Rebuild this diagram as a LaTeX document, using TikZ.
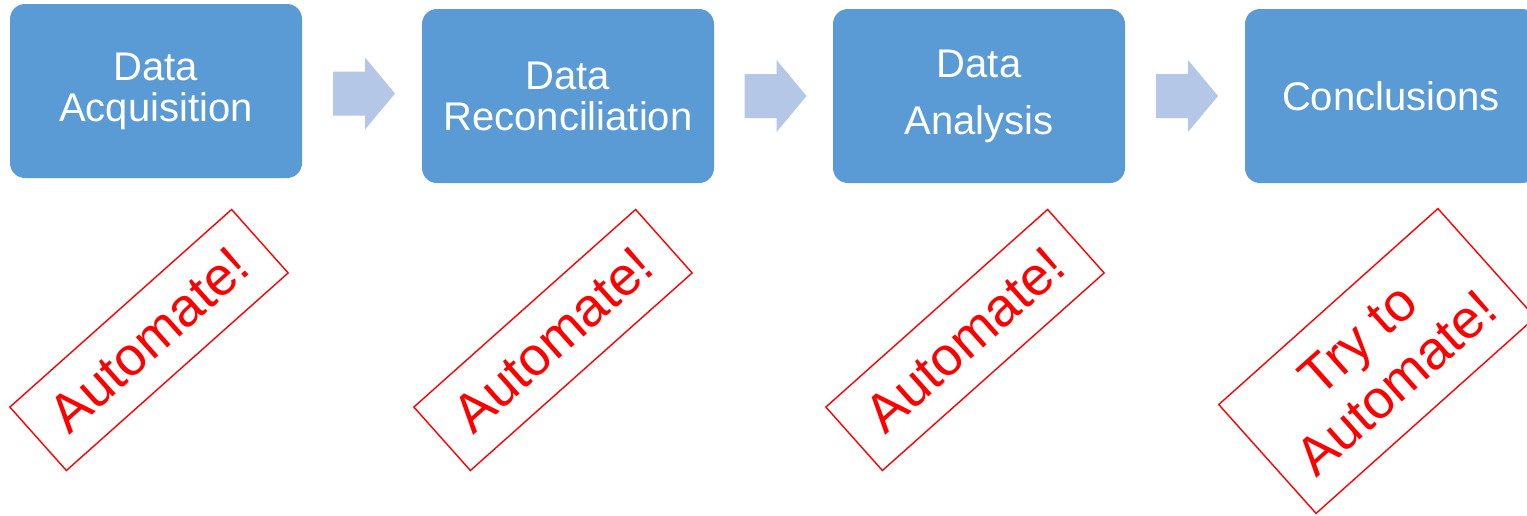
\documentclass[tikz,border=0pt]{standalone}
\usepackage{fontspec}
\setmainfont{Liberation Sans}
\usetikzlibrary{calc}

\definecolor{boxblue}{HTML}{5B9BD5}
\definecolor{arrowblue}{HTML}{B4C7E7}

\tikzset{
  procbox/.style={fill=boxblue, rounded corners=15pt, minimum width=292pt,
    minimum height=174pt, text=white, align=center,
    font=\fontsize{40}{41}\selectfont},
  stamp/.style={draw=red, line width=1.4pt, text=red, align=center,
    minimum width=297pt, minimum height=85pt, inner sep=0pt,
    font=\fontsize{54}{58}\selectfont},
  flowarrow/.pic={
    \fill[arrowblue] (-31,-22) -- (1,-22) -- (1,-36) -- (31,0)
      -- (1,36) -- (1,22) -- (-31,22) -- cycle;
  }
}

\begin{document}
\begin{tikzpicture}[x=1pt,y=-1pt]
\useasboundingbox (0,0) rectangle (1527,515);

% Draw the process boxes
\node[procbox] (acq) at (156,91) {Data\\Acquisition};
\node[procbox] (rec) at (568,96) {Data\\Reconciliation};
\node[procbox, font=\fontsize{40}{57}\selectfont] (ana) at (979,96) {Data\\Analysis};
\node[procbox] (con) at (1391,96) {Conclusions};

%% Draw the arrows between them
\pic at ($(acq.east)!0.5!(rec.west)+(2,0)$) {flowarrow};
\pic at ($(rec.east)!0.5!(ana.west)+(2,0)$) {flowarrow};
\pic at ($(ana.east)!0.5!(con.west)+(2,0)$) {flowarrow};

%% Add the stamps
\node[stamp, rotate=41.7] (auto1) at (149,340) {Automate!};
\node[stamp, rotate=41.7] (auto2) at (553,340) {Automate!};
\node[stamp, rotate=41.7] (auto3) at (965,340) {Automate!};
\node[stamp, rotate=41.8, minimum width=294pt, minimum height=146pt]
  (auto4) at (1377,361) {Try to\\Automate!};

\end{tikzpicture}
\end{document}
